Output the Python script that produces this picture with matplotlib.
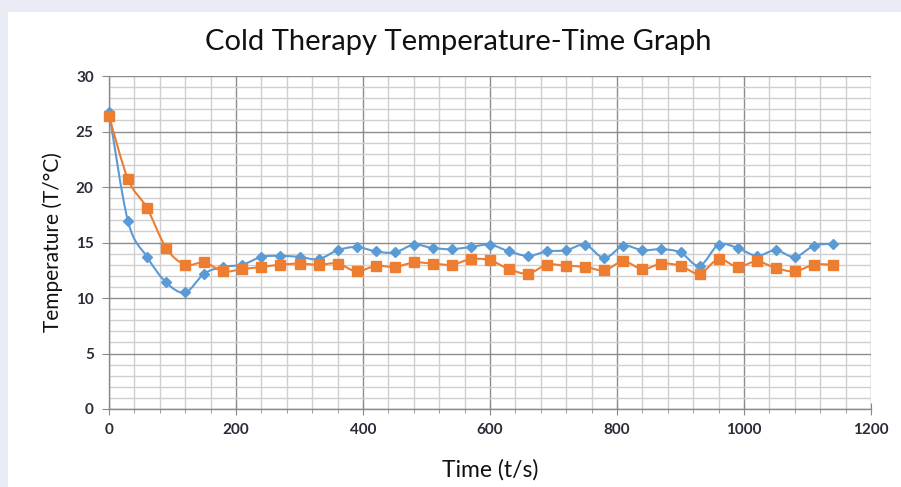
import numpy as np
import matplotlib
matplotlib.use("Agg")
import matplotlib.pyplot as plt
from matplotlib.path import Path
from matplotlib.patches import PathPatch, Rectangle
from matplotlib.ticker import MultipleLocator

# readings every 30 s
time_s = list(range(0, 1141, 30))
blue_temp = [26.8, 16.9, 13.7, 11.4, 10.5, 12.2, 12.8, 13.0, 13.7, 13.8,
             13.7, 13.5, 14.3, 14.6, 14.2, 14.1, 14.8, 14.5, 14.4, 14.6,
             14.8, 14.2, 13.8, 14.2, 14.3, 14.8, 13.6, 14.7, 14.3, 14.4,
             14.1, 12.9, 14.8, 14.5, 13.8, 14.3, 13.7, 14.7, 14.9]
orange_temp = [26.4, 20.7, 18.1, 14.5, 13.0, 13.2, 12.4, 12.6, 12.8, 13.0,
               13.1, 13.0, 13.1, 12.4, 12.9, 12.8, 13.2, 13.1, 13.0, 13.5,
               13.4, 12.6, 12.2, 13.0, 12.9, 12.8, 12.5, 13.3, 12.6, 13.1,
               12.9, 12.2, 13.5, 12.8, 13.3, 12.7, 12.4, 13.0, 13.0]

BLUE = "#5B9BD5"
ORANGE = "#ED7D31"
TXT = "#2b2b3a"


def smooth_path(x, y):
    """Excel-like smoothed line: Catmull-Rom through the points as Bezier segments"""
    pts = np.column_stack([x, y]).astype(float)
    n = len(pts)
    verts = [pts[0]]
    codes = [Path.MOVETO]
    for i in range(n - 1):
        p0 = pts[i - 1] if i > 0 else pts[i]
        p1 = pts[i]
        p2 = pts[i + 1]
        p3 = pts[i + 2] if i + 2 < n else pts[i + 1]
        c1 = p1 + (p2 - p0) / 6.0
        c2 = p2 - (p3 - p1) / 6.0
        verts += [c1, c2, p2]
        codes += [Path.CURVE4] * 3
    return Path(verts, codes)


plt.rcParams['font.family'] = ['Lato', 'DejaVu Sans']

fig = plt.figure(figsize=(9.01, 4.87), dpi=100)
fig.patch.set_facecolor("#E8EBF4")
panel = Rectangle((8 / 901, 0), 1, 1 - 12 / 487, transform=fig.transFigure,
                  facecolor="white", edgecolor="none", zorder=-10)
fig.add_artist(panel)

ax = fig.add_axes([109 / 901, 78 / 487, 762 / 901, 333 / 487])
ax.set_zorder(1)
ax.set_facecolor("white")

ax.set_xlim(0, 1200)
ax.set_ylim(0, 30)
ax.xaxis.set_major_locator(MultipleLocator(200))
ax.xaxis.set_minor_locator(MultipleLocator(40))
ax.yaxis.set_major_locator(MultipleLocator(5))
ax.yaxis.set_minor_locator(MultipleLocator(1))

ax.grid(which="major", color="#8c8c8c", linewidth=1.0)
ax.grid(which="minor", color="#cfcfcf", linewidth=1.0)
ax.set_axisbelow(True)

for side in ["top", "right"]:
    ax.spines[side].set_visible(False)
for side in ["left", "bottom"]:
    ax.spines[side].set_color("#8a8a8a")
    ax.spines[side].set_linewidth(1.0)

ax.tick_params(which="major", axis="both", color="#8a8a8a", length=5, labelsize=11,
               labelcolor=TXT, pad=6)
ax.tick_params(which="minor", axis="y", length=0)
ax.tick_params(axis="x", which="major", direction="inout", length=8)
ax.tick_params(axis="x", which="minor", direction="out", length=3, color="#8a8a8a")

for tl in ax.get_xticklabels() + ax.get_yticklabels():
    tl.set_fontweight("bold")

ax.add_patch(PathPatch(smooth_path(time_s, blue_temp), facecolor="none",
                       edgecolor=BLUE, linewidth=1.5, zorder=3))
ax.plot(time_s, blue_temp, linestyle="none", marker="D", markersize=5.5,
        color=BLUE, zorder=4, clip_on=False)
ax.add_patch(PathPatch(smooth_path(time_s, orange_temp), facecolor="none",
                       edgecolor=ORANGE, linewidth=1.5, zorder=5))
ax.plot(time_s, orange_temp, linestyle="none", marker="s", markersize=7.5,
        color=ORANGE, zorder=6, clip_on=False)

fig.text(0.509, 1 - 42 / 487, "Cold Therapy Temperature-Time Graph", ha="center",
         va="center", fontsize=21, color="#111111")
ax.set_xlabel("Time (t/s)", fontsize=16.5, color="#111111", labelpad=16)
ax.set_ylabel("Temperature (T/°C)", fontsize=15, color="#111111", labelpad=9)

fig.savefig("out.png", dpi=100, facecolor=fig.get_facecolor())
